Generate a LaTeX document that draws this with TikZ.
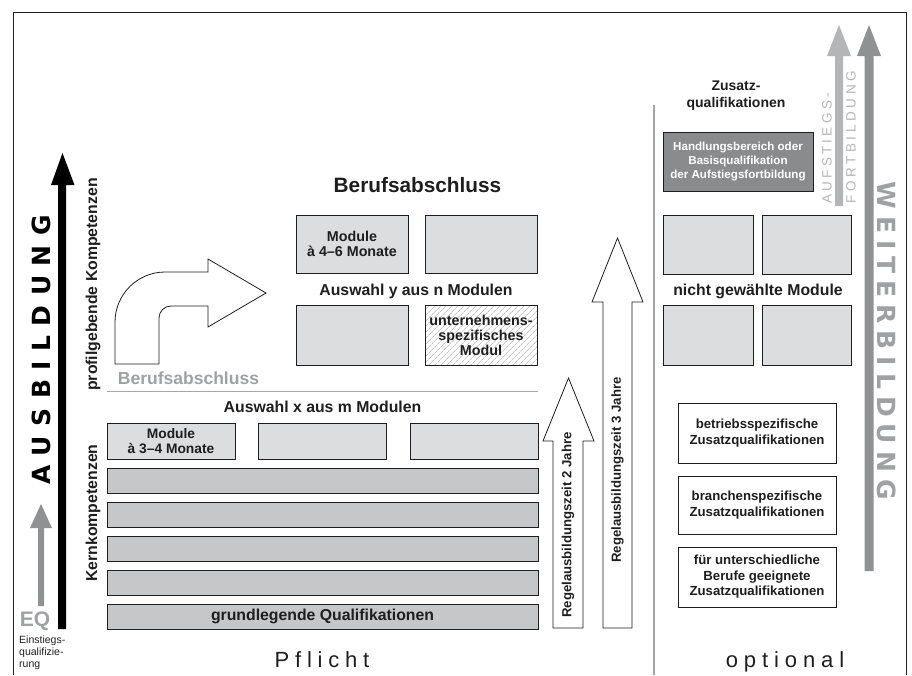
\documentclass[tikz,border=0pt]{standalone}
\usepackage{fontspec}
\setmainfont{Liberation Sans}
\newfontfamily\widefont{DejaVu Sans}
\usetikzlibrary{patterns.meta}
\newdimen\tkamt
\newcommand\tk{\kern\tkamt}
\definecolor{lightbox}{HTML}{DCDDDF}
\definecolor{barbox}{HTML}{C6C7C9}
\definecolor{darkbox}{HTML}{8A8B8D}
\definecolor{ink}{HTML}{1E1E1E}
\definecolor{lightarrow}{HTML}{B4B5B7}
\definecolor{midarrow}{HTML}{909193}
\definecolor{graytext}{HTML}{A0A1A3}
\definecolor{divider}{HTML}{A5A6A8}
\begin{document}
\begin{tikzpicture}[x=1pt,y=-1pt,
  box/.style={draw=ink, line width=0.9pt, inner sep=0pt, align=center, text=ink,
    font=\bfseries\fontsize{14.3}{15}\selectfont},
  lbox/.style={box, fill=lightbox},
  bbox/.style={box, fill=barbox},
  wbox/.style={box, fill=white, font=\bfseries\fontsize{13.2}{15.5}\selectfont},
  dbox/.style={box, fill=darkbox, text=white, font=\bfseries\fontsize{11.6}{14}\selectfont},
  hbox/.style={box, preaction={fill=white}, pattern={Lines[angle=45,distance=4pt,line width=0.6pt]}, pattern color=black!35},
  lbl/.style={font=\bfseries\fontsize{15.8}{18}\selectfont, text=ink, inner sep=0pt},
  rlbl/.style={lbl, rotate=90},
  outarrow/.style={draw=ink, line width=0.8pt, fill=white, line join=miter},
  tracked/.style={inner sep=0pt, font=\fontsize{22}{24}\selectfont, text=ink}
]
\useasboundingbox (0,0) rectangle (912,675);

% frame and divider
\draw[line width=1pt, ink] (13,675) -- (13,12) -- (906,12) -- (906,675);
\draw[line width=1.3pt, divider] (654,105) -- (654,675);

% left arrows
\fill[black] (58,629) -- (58,185) -- (51,185) -- (62.5,153) -- (74.5,185) -- (66,185) -- (66,629) -- cycle;
\fill[midarrow] (38,606) -- (38,528) -- (30,528) -- (41,504) -- (52,528) -- (44,528) -- (44,606) -- cycle;
\node[rotate=90, inner sep=0pt, font=\widefont\bfseries\fontsize{25}{28}\selectfont, text=black] (ausb) at (41.5,350)
  {\tkamt=9.5pt A\tk U\tk S\tk B\tk I\tk L\tk D\tk U\tk N\tk G};
\node[inner sep=0pt, font=\bfseries\fontsize{21}{23}\selectfont, text=graytext] (eq) at (35,621) {EQ};
\node[anchor=north west, inner sep=0pt, align=left, font=\fontsize{10.5}{12}\selectfont, text=ink] (einst) at (19,636)
  {Einstiegs-\\qualifizie-\\rung};

% side labels
\node[rlbl] (profil) at (93,284.5) {profilgebende Kompetenzen};
\node[rlbl] (kern) at (93,513) {Kernkompetenzen};

% bend arrow
\draw[outarrow] (115,364) -- (115,322) .. controls (115,294.5) and (137.5,272) .. (165,272)
  -- (208,272) -- (208,259) -- (266,293) -- (208,327) -- (208,306) -- (171,306)
  .. controls (164.4,306) and (159,311.4) .. (159,318) -- (159,364) -- cycle;

\node[lbl, font=\bfseries\fontsize{17.5}{20}\selectfont, text=graytext] (bagray) at (188.5,378) {Berufsabschluss};
\draw[line width=0.9pt, divider] (107,391) -- (538,391);

% upper modules
\node[lbl, font=\bfseries\fontsize{20.8}{23}\selectfont] (titel) at (417.5,185) {Berufsabschluss};
\node[lbox, minimum width=112pt, minimum height=58pt] (m1) at (352,244) {Module\\à 4–6 Monate};
\node[lbox, minimum width=112pt, minimum height=58pt] (m2) at (481,244) {};
\node[lbl] (auswy) at (416,291) {Auswahl y aus n Modulen};
\node[lbox, minimum width=112pt, minimum height=60pt] (m3) at (352,335) {};
\node[hbox, minimum width=112pt, minimum height=60pt] (m4) at (481,335) {unternehmens-\\spezifisches\\Modul};

% lower modules
\node[lbl] (auswx) at (322.5,407) {Auswahl x aus m Modulen};
\node[lbox, minimum width=128pt, minimum height=36pt, font=\bfseries\fontsize{13.8}{14.5}\selectfont] (k1) at (171,441) {Module\\à 3–4 Monate};
\node[lbox, minimum width=128pt, minimum height=36pt] (k2) at (322,441) {};
\node[lbox, minimum width=128pt, minimum height=36pt] (k3) at (474,441) {};
\node[bbox, minimum width=431pt, minimum height=25pt] (b1) at (322.5,480.5) {};
\node[bbox, minimum width=431pt, minimum height=25pt] (b2) at (322.5,514.5) {};
\node[bbox, minimum width=431pt, minimum height=25pt] (b3) at (322.5,548.5) {};
\node[bbox, minimum width=431pt, minimum height=25pt] (b4) at (322.5,582.5) {};
\node[bbox, minimum width=431pt, minimum height=25pt, font=\bfseries\fontsize{15.8}{18}\selectfont] (b5) at (322.5,616.5) {grundlegende Qualifikationen};

% duration arrows
\draw[outarrow] (553,628) -- (553,441) -- (543,441) -- (568.5,378) -- (594,441) -- (583,441) -- (583,628) -- cycle;
\draw[outarrow] (603,628) -- (603,302) -- (592,302) -- (617.5,238) -- (643,302) -- (632,302) -- (632,628) -- cycle;
\node[rlbl, font=\bfseries\fontsize{13.2}{15}\selectfont] (r2) at (568,525) {Regelausbildungszeit 2 Jahre};
\node[rlbl, font=\bfseries\fontsize{13.2}{15}\selectfont] (r3) at (617.5,470) {Regelausbildungszeit 3 Jahre};

% bottom captions
\node[tracked, anchor=base] (pflicht) at (322,667) {\tkamt=5.8pt P\tk f\tk l\tk i\tk c\tk h\tk t};
\node[tracked, anchor=base] (optional) at (785,667) {\tkamt=5.9pt o\tk p\tk t\tk i\tk o\tk n\tk a\tk l};

% right side
\node[lbl, align=center, font=\bfseries\fontsize{14}{17}\selectfont] (zusatz) at (736,96) {Zusatz-\\qualifikationen};
\node[dbox, minimum width=150pt, minimum height=59pt] (hb) at (738,161.5) {Handlungsbereich oder\\Basisqualifikation\\der Aufstiegsfortbildung};
\node[lbox, minimum width=90pt, minimum height=59pt] (n1) at (708,244.5) {};
\node[lbox, minimum width=89pt, minimum height=59pt] (n2) at (806.5,244.5) {};
\node[lbl] (nicht) at (758,291) {nicht gewählte Module};
\node[lbox, minimum width=90pt, minimum height=60pt] (n3) at (708,335) {};
\node[lbox, minimum width=89pt, minimum height=60pt] (n4) at (806.5,335) {};
\node[wbox, minimum width=158pt, minimum height=60pt] (z1) at (757,433) {betriebsspezifische\\Zusatzqualifikationen};
\node[wbox, minimum width=158pt, minimum height=58pt] (z2) at (757,505) {branchenspezifische\\Zusatzqualifikationen};
\node[wbox, minimum width=158pt, minimum height=60pt] (z3) at (757,577) {für unterschiedliche\\Berufe geeignete\\Zusatzqualifikationen};

% right arrows
\fill[lightarrow] (835,206) -- (835,56) -- (827,56) -- (839,25) -- (851,56) -- (843,56) -- (843,206) -- cycle;
\fill[midarrow] (864.5,571) -- (864.5,56) -- (857,56) -- (869,25) -- (881,56) -- (873.5,56) -- (873.5,571) -- cycle;
\node[rotate=90, anchor=west, inner sep=0pt, font=\fontsize{13.5}{15}\selectfont, text=lightarrow] (aufst) at (827,204)
  {\tkamt=3.3pt A\tk U\tk F\tk S\tk T\tk I\tk E\tk G\tk S\tk -};
\node[rotate=90, anchor=west, inner sep=0pt, font=\fontsize{13.5}{15}\selectfont, text=lightarrow] (fortb) at (851,204)
  {\tkamt=3.6pt F\tk O\tk R\tk T\tk B\tk I\tk L\tk D\tk U\tk N\tk G};
\node[rotate=-90, inner sep=0pt, font=\widefont\bfseries\fontsize{25}{28}\selectfont, text=graytext] (weiter) at (887,340.5)
  {\tkamt=7pt W\tk E\tk I\tk T\tk E\tk R\tk B\tk I\tk L\tk D\tk U\tk N\tk G};
\end{tikzpicture}
\end{document}
